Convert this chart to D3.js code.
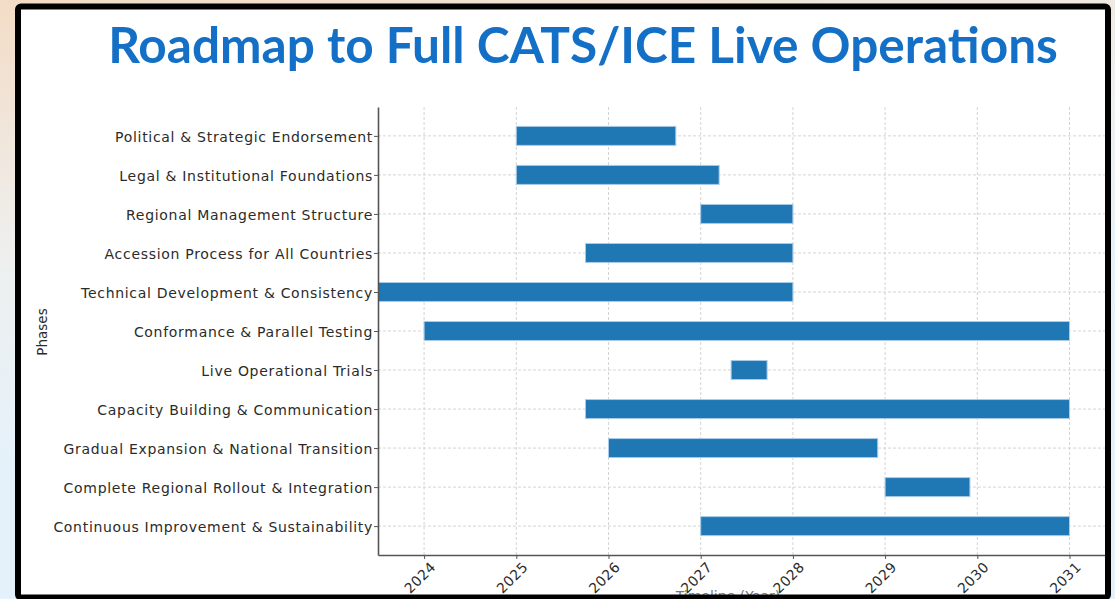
<!DOCTYPE html>
<html>
<head>
<meta charset="utf-8">
<script src="https://cdn.jsdelivr.net/npm/d3@7"></script>
<style>
	body { margin: 0; padding: 0; overflow: hidden; }
	svg { display: block; }
</style>
</head>
<body>
<div id="chart"></div>
<script>

var phases = [
	"Political & Strategic Endorsement",
	"Legal & Institutional Foundations",
	"Regional Management Structure",
	"Accession Process for All Countries",
	"Technical Development & Consistency",
	"Conformance & Parallel Testing",
	"Live Operational Trials",
	"Capacity Building & Communication",
	"Gradual Expansion & National Transition",
	"Complete Regional Rollout & Integration",
	"Continuous Improvement & Sustainability"
];

// start / end in fractional years
var startYears = [2025, 2025, 2027, 2025.75, 2023, 2024, 2027.33, 2025.75, 2026, 2029, 2027];
var endYears = [2026.73, 2027.2, 2028, 2028, 2028, 2031, 2027.72, 2031, 2028.92, 2029.92, 2031];

var tickYears = [2024, 2025, 2026, 2027, 2028, 2029, 2030, 2031];

var titleText = "Roadmap to Full CATS/ICE Live Operations";

var W = 1115, H = 599;

var margin = {
		top: 107,
		right: 10,
		bottom: 44,
		left: 378
	},
	width = 1105 - margin.left,
	height = 555 - margin.top;

var svgRoot = d3.select("#chart")
	.append("svg")
	.attr("width", W)
	.attr("height", H);

var defs = svgRoot.append("defs");

var grad = defs.append("linearGradient")
	.attr("id", "bg")
	.attr("x1", 0).attr("y1", 0)
	.attr("x2", 0.22).attr("y2", 0.75);
grad.append("stop").attr("offset", "0%").attr("stop-color", "#f3dcc6");
grad.append("stop").attr("offset", "55%").attr("stop-color", "#eef0f0");
grad.append("stop").attr("offset", "100%").attr("stop-color", "#e4f1fb");

defs.append("clipPath")
	.attr("id", "plotclip")
	.append("rect")
	.attr("x", 0)
	.attr("y", 0)
	.attr("width", width)
	.attr("height", height);

// slide background
svgRoot.append("rect")
	.attr("width", W)
	.attr("height", H)
	.attr("fill", "url(#bg)");

// white panel
svgRoot.append("rect")
	.attr("x", 18)
	.attr("y", 6.5)
	.attr("width", 1090)
	.attr("height", 591)
	.attr("rx", 3)
	.attr("fill", "#ffffff");

// title
var title = svgRoot.append("text")
	.attr("x", 583)
	.attr("y", 63)
	.attr("text-anchor", "middle")
	.style("font-family", "Lato, 'Open Sans', sans-serif")
	.style("font-weight", 700)
	.style("font-size", "46px")
	.attr("fill", "#1470c6")
	.text(titleText);

var tw = title.node().getComputedTextLength();
title.style("font-size", (46 * 950 / tw) + "px");

var svg = svgRoot.append("g")
	.attr("transform", "translate(" + margin.left + "," + margin.top + ")");

var x = d3.scaleLinear()
	.domain([2023.5, 2023.5 + width / 92.2])
	.range([0, width]);

var y = d3.scalePoint()
	.domain(phases)
	.range([0, height])
	.padding(0.74);

// grid
svg.append("g")
	.selectAll("line")
	.data(tickYears)
	.enter()
	.append("line")
	.attr("x1", function (d) { return x(d); })
	.attr("x2", function (d) { return x(d); })
	.attr("y1", 0)
	.attr("y2", height)
	.attr("stroke", "#cfcfcf")
	.attr("stroke-width", 0.9)
	.attr("stroke-dasharray", "3,2");

svg.append("g")
	.selectAll("line")
	.data(phases)
	.enter()
	.append("line")
	.attr("x1", 0)
	.attr("x2", width)
	.attr("y1", function (d) { return y(d); })
	.attr("y2", function (d) { return y(d); })
	.attr("stroke", "#cfcfcf")
	.attr("stroke-width", 0.9)
	.attr("stroke-dasharray", "3,2");

// bars
var barH = 19;

svg.append("g")
	.attr("clip-path", "url(#plotclip)")
	.selectAll("rect")
	.data(phases)
	.enter()
	.append("rect")
	.attr("x", function (d, i) { return x(startYears[i]); })
	.attr("y", function (d) { return y(d) - barH / 2; })
	.attr("width", function (d, i) { return x(endYears[i]) - x(startYears[i]); })
	.attr("height", barH)
	.attr("fill", "#1f77b4")
	.attr("stroke", "#a9cbe8")
	.attr("stroke-width", 1);

// axes
var xAxis = d3.axisBottom(x)
	.tickValues(tickYears)
	.tickFormat(d3.format("d"))
	.tickSize(4)
	.tickSizeOuter(0);

var gx = svg.append("g")
	.attr("transform", "translate(0," + height + ")")
	.call(xAxis);

gx.select(".domain").attr("stroke", "#555").attr("stroke-width", 1.6);
gx.selectAll(".tick line").attr("stroke", "#555");
gx.selectAll(".tick text")
	.style("font-family", "'DejaVu Sans', sans-serif")
	.style("font-size", "14px")
	.style("letter-spacing", "0.4px")
	.attr("fill", "#2b2b2b")
	.attr("text-anchor", "end")
	.attr("x", 0)
	.attr("y", 0)
	.attr("dx", 0)
	.attr("dy", 0)
	.attr("transform", "translate(12,13) rotate(-45)");

var yAxis = d3.axisLeft(y)
	.tickSize(4)
	.tickSizeOuter(0);

var gy = svg.append("g")
	.call(yAxis);

gy.select(".domain").attr("stroke", "#555").attr("stroke-width", 1.6);
gy.selectAll(".tick line").attr("stroke", "#555");
gy.selectAll(".tick text")
	.style("font-family", "'DejaVu Sans', sans-serif")
	.style("font-size", "14px")
	.style("letter-spacing", "0.7px")
	.attr("fill", "#2b2b2b")
	.attr("x", -5)
	.attr("dy", "0.38em");

// axis labels
svgRoot.append("text")
	.attr("transform", "translate(47,332) rotate(-90)")
	.attr("text-anchor", "middle")
	.style("font-family", "'DejaVu Sans', sans-serif")
	.style("font-size", "13.5px")
	.attr("fill", "#2b2b2b")
	.text("Phases");

svgRoot.append("text")
	.attr("x", 728)
	.attr("y", 601)
	.attr("text-anchor", "middle")
	.style("font-family", "'DejaVu Sans', sans-serif")
	.style("font-size", "14px")
	.attr("fill", "#777")
	.text("Timeline (Year)");

// panel border
svgRoot.append("rect")
	.attr("x", 18)
	.attr("y", 6.5)
	.attr("width", 1090)
	.attr("height", 591)
	.attr("rx", 3)
	.attr("fill", "none")
	.attr("stroke", "#000")
	.attr("stroke-width", 6);

</script>
</body>
</html>
